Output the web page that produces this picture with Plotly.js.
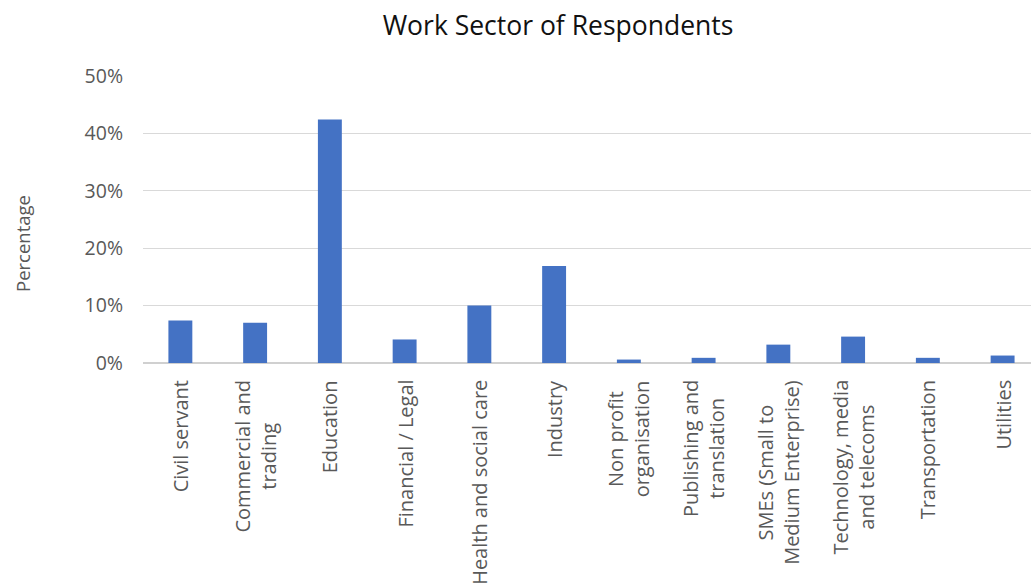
<!DOCTYPE html>
<html>
<head>
<meta charset="utf-8">
<script src="https://cdn.plot.ly/plotly-3.0.1.min.js"></script>
<style>html,body{margin:0;padding:0;background:#fff;}#chart{width:1031px;height:588px;}</style>
</head>
<body>
<div id="chart"></div>
<script>
const categories = [
  "Civil servant",
  "Commercial and<br>trading",
  "Education",
  "Financial / Legal",
  "Health and social care",
  "Industry",
  "Non profit<br>organisation",
  "Publishing and<br>translation",
  "SMEs (Small to<br>Medium Enterprise)",
  "Technology, media<br>and telecoms",
  "Transportation",
  "Utilities"
];
const percentages = [0.074, 0.070, 0.424, 0.041, 0.100, 0.169, 0.006, 0.009, 0.032, 0.046, 0.009, 0.013];
const yTickVals = [0, 0.1, 0.2, 0.3, 0.4, 0.5];
const yTickText = ["0%", "10%", "20%", "30%", "40%", "50%"];
const chartTitle = "Work Sector of Respondents";
const yTitle = "Percentage";

const positions = categories.map((c, i) => i);

const trace = {
  type: "bar",
  x: positions,
  y: percentages,
  marker: {color: "#4472C4"},
  hoverinfo: "skip"
};

// category labels as centred, rotated text under each bar
const labelAnnotations = categories.map((c, i) => ({
  text: c,
  x: positions[i],
  xref: "x",
  y: 0,
  yref: "paper",
  xanchor: "center",
  yanchor: "top",
  yshift: -15,
  textangle: -90,
  align: "center",
  showarrow: false,
  font: {family: "Open Sans, sans-serif", size: 20, color: "#595959"}
}));

const layout = {
  width: 1031,
  height: 588,
  margin: {l: 143, r: 0, t: 76, b: 225, pad: 0},
  paper_bgcolor: "#ffffff",
  plot_bgcolor: "#ffffff",
  font: {family: "Open Sans, sans-serif", color: "#595959"},
  showlegend: false,
  bargap: 0.68,
  title: {
    text: chartTitle,
    font: {family: "Open Sans, sans-serif", size: 26.5, color: "#111111"},
    x: 558 / 1031, xref: "container", xanchor: "center",
    y: 1 - 26 / 588, yref: "container", yanchor: "middle"
  },
  xaxis: {
    type: "linear",
    range: [-0.5, 11.38],
    tickvals: positions,
    showticklabels: false,
    ticks: "",
    showgrid: false,
    zeroline: false,
    showline: false,
    fixedrange: true
  },
  yaxis: {
    range: [0, 0.5],
    tickmode: "array",
    tickvals: yTickVals,
    ticktext: yTickText,
    tickfont: {size: 19.5, color: "#595959"},
    ticks: "",
    showgrid: true,
    gridcolor: "#d9d9d9",
    gridwidth: 1,
    zeroline: true,
    zerolinecolor: "#d0d0d0",
    zerolinewidth: 2,
    showline: false,
    ticklabelstandoff: 19,
    fixedrange: true
  },
  annotations: labelAnnotations.concat([{
    text: yTitle,
    xref: "paper",
    x: (22 - 143) / 888,
    yref: "paper",
    y: (363 - 244) / 287,
    xanchor: "center",
    yanchor: "middle",
    textangle: -90,
    showarrow: false,
    font: {family: "Open Sans, sans-serif", size: 18.5, color: "#595959"}
  }])
};

Plotly.newPlot("chart", [trace], layout, {displayModeBar: false, staticPlot: true});
</script>
</body>
</html>
